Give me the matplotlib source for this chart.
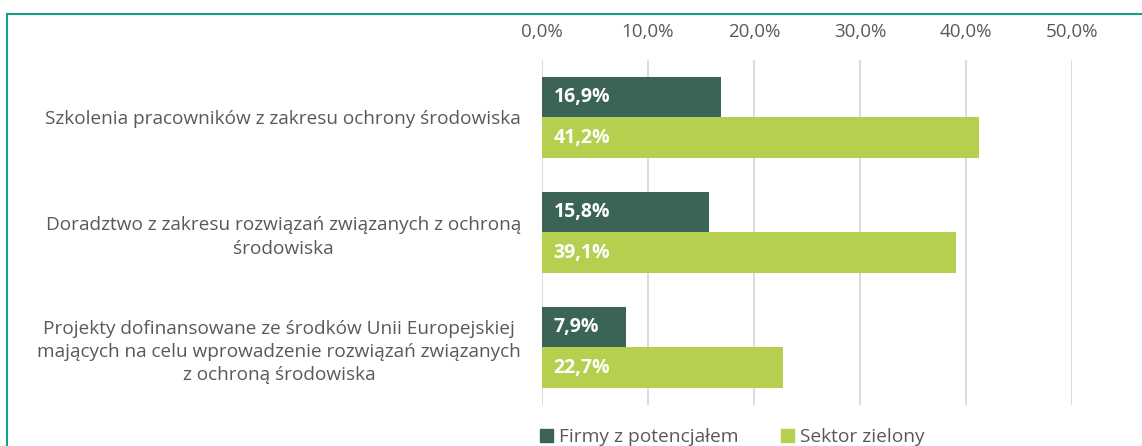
import numpy as np
import matplotlib.pyplot as plt
from matplotlib.patches import Rectangle
import matplotlib.ticker as ticker

# data
categories = ['Szkolenia pracowników z zakresu ochrony środowiska',
              'Doradztwo z zakresu rozwiązań związanych z ochroną\nśrodowiska',
              'Projekty dofinansowane ze środków Unii Europejskiej\nmających na celu wprowadzenie rozwiązań związanych\nz ochroną środowiska']
series_names = ['Firmy z potencjałem', 'Sektor zielony']
firmy = [16.9, 15.8, 7.9]
sektor = [41.2, 39.1, 22.7]
xticks = [0, 10, 20, 30, 40, 50]

c_dark = '#3b6357'
c_light = '#b5d04e'
c_text = '#595959'

plt.rcParams['font.family'] = ['Open Sans', 'DejaVu Sans']

fig = plt.figure(figsize=(11.42, 4.46), dpi=100)
ax = fig.add_axes([0.4746, 0.092, 0.4641, 0.7735])

y = np.arange(len(categories))
h = 0.355
b1 = ax.barh(y - h / 2, firmy, height=h, color=c_dark, zorder=3)
b2 = ax.barh(y + h / 2, sektor, height=h, color=c_light, zorder=3)

for bars, vals in ((b1, firmy), (b2, sektor)):
    for bar, v in zip(bars, vals):
        ax.text(1.1, bar.get_y() + bar.get_height() / 2,
                ('%.1f%%' % v).replace('.', ','),
                color='white', fontweight='bold', fontsize=14,
                va='center', ha='left', zorder=4)

ax.set_xlim(0, 50)
ax.set_ylim(2.5, -0.5)
ax.set_xticks(xticks)
ax.xaxis.set_major_formatter(ticker.FuncFormatter(
    lambda x, pos: ('%.1f%%' % x).replace('.', ',')))
ax.xaxis.tick_top()
ax.tick_params(axis='x', length=0, colors=c_text, labelsize=13.5, pad=14)
ax.tick_params(axis='y', length=0, colors=c_text, labelsize=13.7, pad=15)
ax.set_yticks(y)
ax.set_yticklabels(categories, multialignment='center', linespacing=1.38)
ax.grid(axis='x', color='#d9d9d9', linewidth=1.3, zorder=0)
for s in ax.spines.values():
    s.set_visible(False)

# teal frame around the chart
fig.patches.append(Rectangle((7 / 1142, -0.05), 1.2, 1 - 14 / 446 + 0.05,
                             transform=fig.transFigure, fill=False,
                             edgecolor='#1a9e8a', linewidth=1.5))

handles = [Rectangle((0, 0), 1, 1, color=c_dark),
           Rectangle((0, 0), 1, 1, color=c_light)]
fig.legend(handles, series_names, loc='center', bbox_to_anchor=(0.641, 0.02),
           ncol=2, frameon=False, fontsize=13.8, labelcolor=c_text,
           handlelength=0.7, handleheight=0.7, handletextpad=0.3,
           columnspacing=2.2)

plt.savefig('out.png', dpi=100)
